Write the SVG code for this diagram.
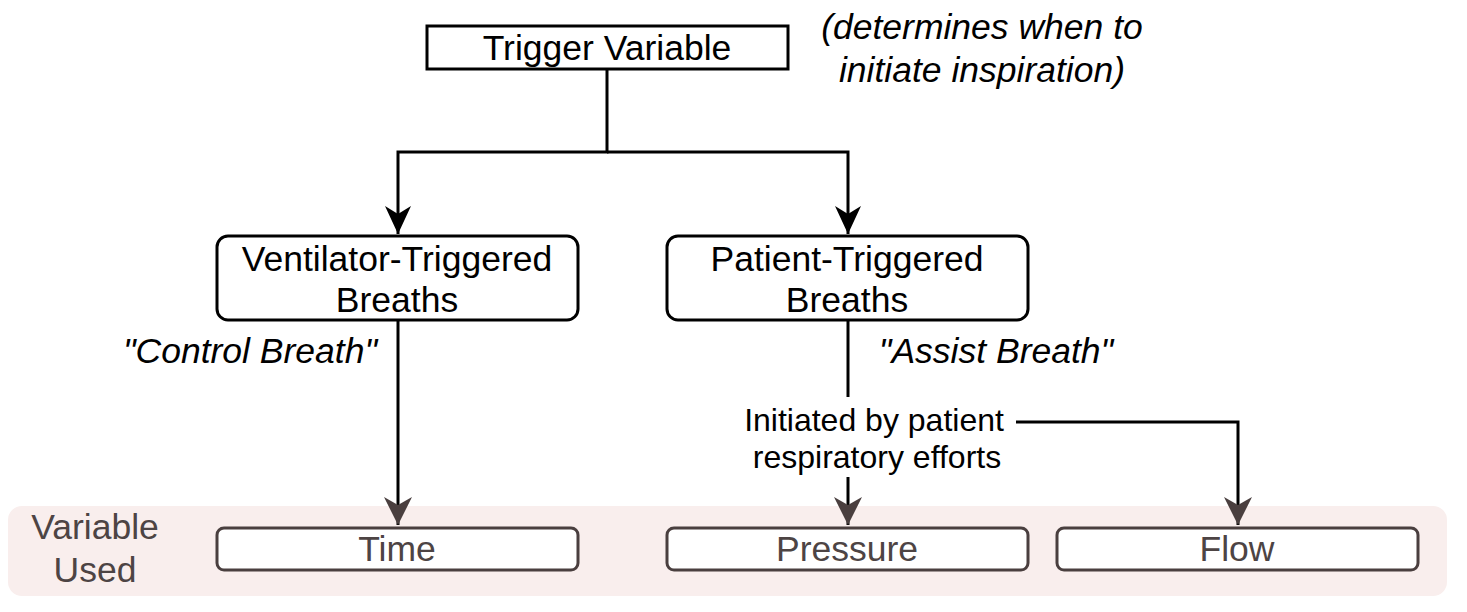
<svg xmlns="http://www.w3.org/2000/svg" width="1467" height="612" viewBox="0 0 1467 612">
<defs>
<style>
text{font-family:"Liberation Sans",Arial,sans-serif;font-size:35.5px;text-anchor:middle}
.it{font-style:italic;fill:#000}
.box{fill:#fff;stroke:#000;stroke-width:3}
.var{fill:#fff;stroke:#4a3f3f;stroke-width:3}
.vt{fill:#4d4444}
.ln{fill:none;stroke:#000;stroke-width:3}
</style>
<marker id="ab" viewBox="0 0 30 30" refX="28" refY="15" markerWidth="30" markerHeight="30" markerUnits="userSpaceOnUse" orient="auto">
<path d="M28,15 L0,2 L8,15 L0,28 Z" fill="#000"/>
</marker>
<marker id="ag" viewBox="0 0 30 30" refX="28" refY="15" markerWidth="30" markerHeight="30" markerUnits="userSpaceOnUse" orient="auto">
<path d="M28,15 L0,1 L8,15 L0,29 Z" fill="#4a3f3f"/>
</marker>
</defs>
<rect id="band" x="8" y="506" width="1439" height="90" rx="14" fill="#f9eeed"/>
<g id="connectors">
<path class="ln" d="M607,69 V152 H398 V234" marker-end="url(#ab)"/>
<path class="ln" d="M607,152 H848 V234" marker-end="url(#ab)"/>
<path class="ln" d="M398,320 V525" marker-end="url(#ag)"/>
<path class="ln" d="M848,320 V397"/>
<path class="ln" d="M848,477 V525" marker-end="url(#ag)"/>
<path class="ln" d="M1016,422 H1238 V525" marker-end="url(#ag)"/>
</g>
<g id="trigger">
<rect class="box" x="427" y="26" width="361" height="43"/>
<text x="607" y="60">Trigger Variable</text>
</g>
<g id="note">
<text class="it" x="982" y="39">(determines when to</text>
<text class="it" x="982" y="82">initiate inspiration)</text>
</g>
<g id="ventilator">
<rect class="box" x="217" y="236" width="361" height="84" rx="11"/>
<text x="397" y="271">Ventilator-Triggered</text>
<text x="397" y="312">Breaths</text>
</g>
<g id="patient">
<rect class="box" x="667" y="236" width="361" height="84" rx="11"/>
<text x="847" y="271">Patient-Triggered</text>
<text x="847" y="312">Breaths</text>
</g>
<g id="control-label"><text class="it" x="250" y="363">"Control Breath"</text></g>
<g id="assist-label"><text class="it" x="996" y="363">"Assist Breath"</text></g>
<g id="initiated">
<text x="874" y="431" style="font-size:32px">Initiated by patient</text>
<text x="877" y="468" style="font-size:32px">respiratory efforts</text>
</g>
<g id="variable-used">
<text class="vt" x="95" y="539">Variable</text>
<text class="vt" x="95" y="582">Used</text>
</g>
<g id="time">
<rect class="var" x="217" y="528" width="361" height="42" rx="7"/>
<text class="vt" x="397" y="561">Time</text>
</g>
<g id="pressure">
<rect class="var" x="667" y="528" width="361" height="42" rx="7"/>
<text class="vt" x="847" y="561">Pressure</text>
</g>
<g id="flow">
<rect class="var" x="1057" y="528" width="361" height="42" rx="7"/>
<text class="vt" x="1237" y="561">Flow</text>
</g>
</svg>
